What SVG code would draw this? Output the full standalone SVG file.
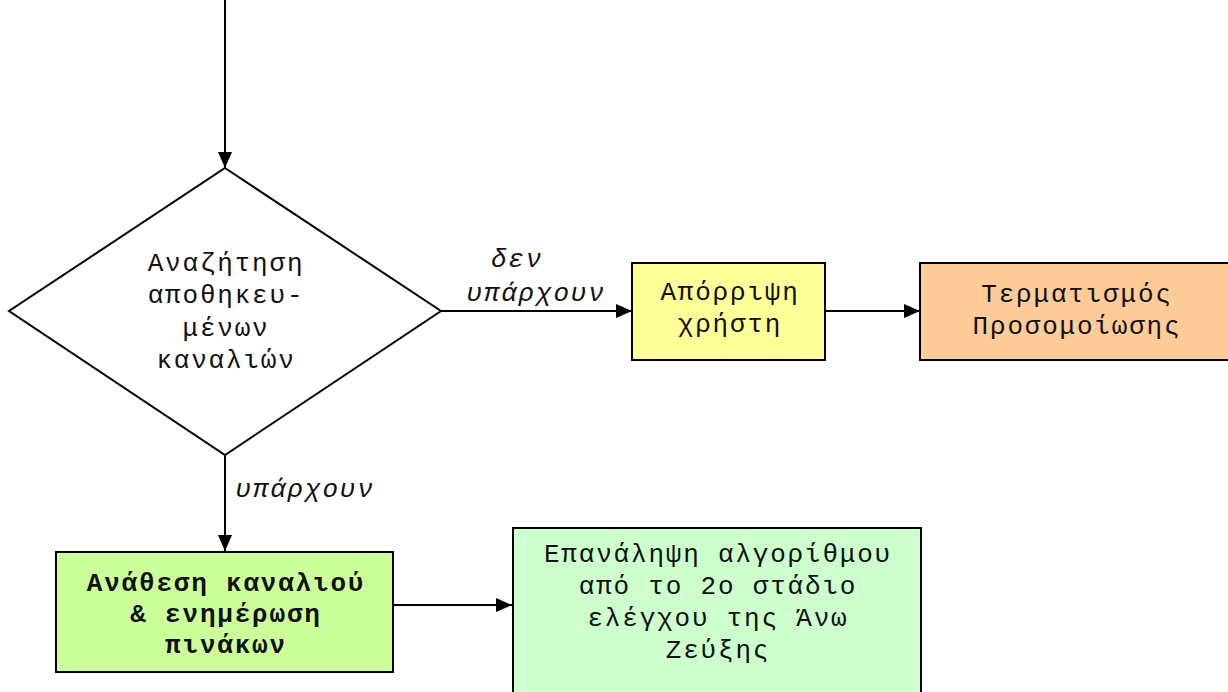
<svg xmlns="http://www.w3.org/2000/svg" width="1228" height="692" viewBox="0 0 1228 692">
<defs>
<style>
.t{font-family:"Liberation Mono","Courier New","DejaVu Sans Mono",monospace;font-size:26px;letter-spacing:1.8px;fill:#111;text-anchor:middle}
.b{font-weight:bold}
.i{font-style:italic}
.box{stroke:#000;stroke-width:2}
.ln{stroke:#000;stroke-width:2;fill:none;marker-end:url(#ah)}
</style>
<marker id="ah" markerUnits="userSpaceOnUse" markerWidth="18" markerHeight="14" refX="16" refY="7" orient="auto">
<path d="M0,0 L16,7 L0,14 Z" fill="#000"/>
</marker>
</defs>
<rect width="1228" height="692" fill="#fff"/>
<g id="connectors">
<line class="ln" x1="225" y1="0" x2="225" y2="168"/>
<line class="ln" x1="441" y1="311" x2="632" y2="311"/>
<line class="ln" x1="825" y1="311" x2="920" y2="311"/>
<line class="ln" x1="225" y1="455" x2="225" y2="551"/>
<line class="ln" x1="393" y1="605" x2="512" y2="605"/>
<text class="t i" x="517" y="267">δεν</text>
<text class="t i" x="536" y="301">υπάρχουν</text>
<text class="t i" x="305" y="497">υπάρχουν</text>
</g>
<g id="decision">
<polygon class="box" points="225,168 441,311 225,455 9,311" fill="#fff"/>
<text class="t" x="226" y="271">Αναζήτηση</text>
<text class="t" x="226" y="303">αποθηκευ-</text>
<text class="t" x="226" y="336">μένων</text>
<text class="t" x="226" y="368">καναλιών</text>
</g>
<g id="reject">
<rect class="box" x="632" y="263" width="193" height="97" fill="#FFFF99"/>
<text class="t" x="730" y="300">Απόρριψη</text>
<text class="t" x="730" y="332">χρήστη</text>
</g>
<g id="terminate">
<rect class="box" x="920" y="263" width="312" height="97" fill="#FFCC99"/>
<text class="t" x="1077" y="302">Τερματισμός</text>
<text class="t" x="1077" y="334">Προσομοίωσης</text>
</g>
<g id="assign">
<rect class="box" x="56" y="552" width="337" height="120" fill="#CCFF99"/>
<text class="t b" x="226" y="591">Ανάθεση καναλιού</text>
<text class="t b" x="226" y="622">&amp; ενημέρωση</text>
<text class="t b" x="226" y="653">πινάκων</text>
</g>
<g id="repeat">
<rect class="box" x="513" y="528" width="408" height="170" fill="#CCFFCC"/>
<text class="t" x="718" y="562">Επανάληψη αλγορίθμου</text>
<text class="t" x="718" y="594">από το 2ο στάδιο</text>
<text class="t" x="718" y="626">ελέγχου της Άνω</text>
<text class="t" x="718" y="658">Ζεύξης</text>
</g>
</svg>
